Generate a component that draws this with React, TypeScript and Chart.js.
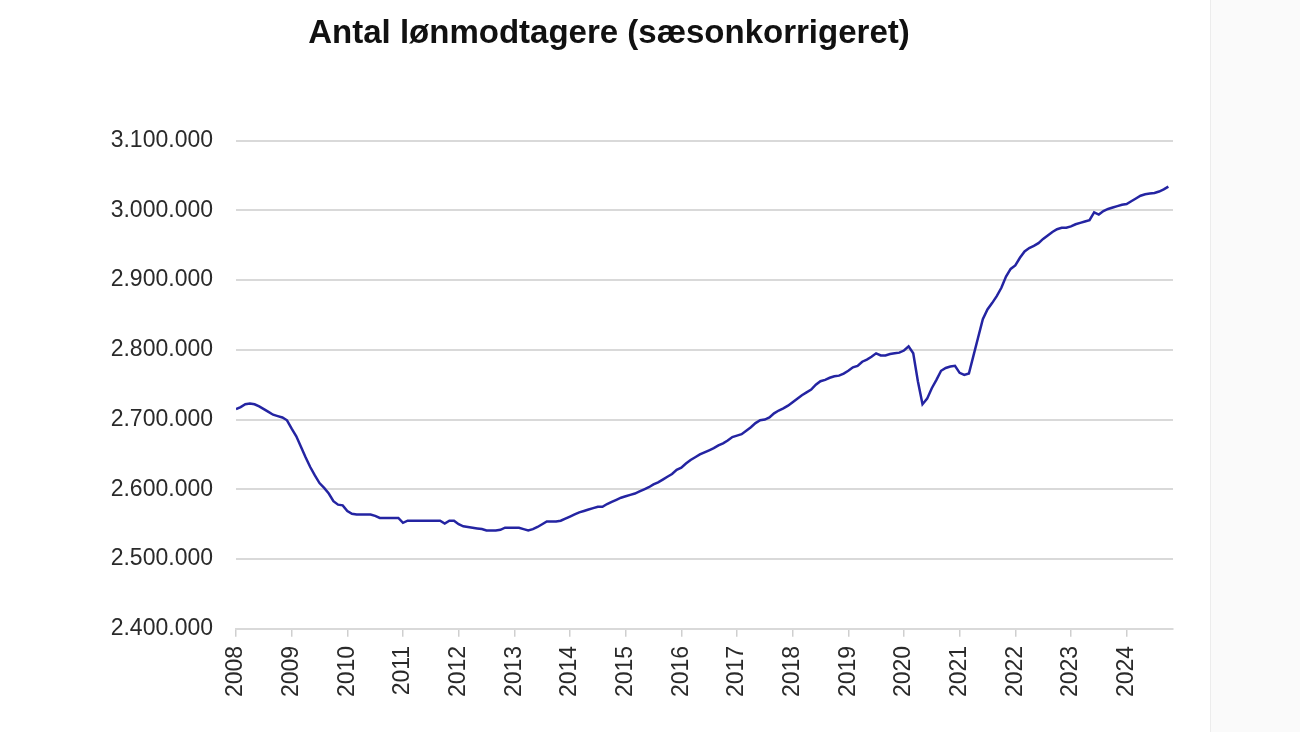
import React, { useEffect, useRef } from "react";
import { Chart, registerables } from "chart.js";

Chart.register(...registerables);

const TITLE = "Antal lønmodtagere (sæsonkorrigeret)";
const START_YEAR = 2008;
const LAST_MONTH_INDEX = 202; // axis runs to Nov 2024

// Monthly values (thousands), seasonally adjusted
const y2008 = [2715, 2718, 2722, 2723, 2722, 2719, 2715, 2711, 2707, 2705, 2703, 2699];
const y2009 = [2687, 2676, 2661, 2646, 2632, 2620, 2609, 2602, 2594, 2583, 2578, 2577];
const y2010 = [2569, 2565, 2564, 2564, 2564, 2564, 2562, 2559, 2559, 2559, 2559, 2559];
const y2011 = [2552, 2555, 2555, 2555, 2555, 2555, 2555, 2555, 2555, 2551, 2555, 2555];
const y2012 = [2550, 2547, 2546, 2545, 2544, 2543, 2541, 2541, 2541, 2542, 2545, 2545];
const y2013 = [2545, 2545, 2543, 2541, 2543, 2546, 2550, 2554, 2554, 2554, 2555, 2558];
const y2014 = [2561, 2564, 2567, 2569, 2571, 2573, 2575, 2575, 2579, 2582, 2585, 2588];
const y2015 = [2590, 2592, 2594, 2597, 2600, 2603, 2607, 2610, 2614, 2618, 2622, 2628];
const y2016 = [2631, 2637, 2642, 2646, 2650, 2653, 2656, 2659, 2663, 2666, 2670, 2675];
const y2017 = [2677, 2679, 2684, 2689, 2695, 2699, 2700, 2703, 2709, 2713, 2716, 2720];
const y2018 = [2725, 2730, 2735, 2739, 2743, 2750, 2755, 2757, 2760, 2762, 2763, 2766];
const y2019 = [2770, 2775, 2777, 2783, 2786, 2790, 2795, 2792, 2792, 2794, 2795, 2796];
const y2020 = [2799, 2805, 2795, 2755, 2722, 2730, 2745, 2757, 2770, 2774, 2776, 2777];
const y2021 = [2767, 2764, 2766, 2792, 2818, 2844, 2858, 2867, 2877, 2889, 2905, 2916];
const y2022 = [2921, 2932, 2941, 2946, 2949, 2953, 2959, 2964, 2969, 2973, 2975, 2975];
const y2023 = [2977, 2980, 2982, 2984, 2986, 2997, 2994, 2999, 3002, 3004, 3006, 3008];
const y2024 = [3009, 3013, 3017, 3021, 3023, 3024, 3025, 3027, 3030, 3034];

const monthly = [
  ...y2008, ...y2009, ...y2010, ...y2011, ...y2012, ...y2013, ...y2014, ...y2015,
  ...y2016, ...y2017, ...y2018, ...y2019, ...y2020, ...y2021, ...y2022, ...y2023, ...y2024,
];

const Y_MIN = 2400000;
const Y_MAX = 3100000;
const Y_STEP = 100000;

const fmtDa = (v: number) => String(Math.round(v)).replace(/\B(?=(\d{3})+(?!\d))/g, ".");

export default function App() {
  const canvasRef = useRef<HTMLCanvasElement | null>(null);

  useEffect(() => {
    if (!canvasRef.current) return;
    const points = monthly.map((v, i) => ({ x: i, y: v * 1000 }));
    const chart = new Chart(canvasRef.current, {
      type: "line",
      data: {
        datasets: [
          {
            label: "Lønmodtagere",
            data: points,
            borderColor: "#2424a2",
            borderWidth: 2.5,
            pointRadius: 0,
            tension: 0,
            fill: false,
          },
        ],
      },
      options: {
        animation: false,
        responsive: true,
        maintainAspectRatio: false,
        layout: { padding: { left: 37, right: 37, top: 0, bottom: 18 } },
        plugins: {
          legend: { display: false },
          tooltip: { enabled: false },
          title: {
            display: true,
            text: TITLE,
            color: "#111111",
            font: { family: "'Liberation Sans', Arial, sans-serif", size: 33, weight: "bold" },
            padding: { top: 6, bottom: 87 },
          },
        },
        scales: {
          x: {
            type: "linear",
            min: 0,
            max: LAST_MONTH_INDEX,
            grid: {
              drawOnChartArea: false,
              drawTicks: true,
              tickLength: 8,
              color: "#cfcfcf",
              lineWidth: 1.5,
            },
            border: { display: true, color: "#d9d9d9", width: 2 },
            ticks: {
              stepSize: 12,
              includeBounds: false,
              autoSkip: false,
              maxRotation: 90,
              minRotation: 90,
              padding: 9,
              color: "#2a2a2a",
              font: { family: "'Liberation Sans', Arial, sans-serif", size: 23 },
              callback: (v: any) => (Number(v) % 12 === 0 ? String(START_YEAR + Number(v) / 12) : null),
            },
          },
          y: {
            type: "linear",
            min: Y_MIN,
            max: Y_MAX,
            afterFit: (scale: any) => {
              scale.width = 191;
            },
            grid: { drawTicks: false, color: "#d9d9d9", lineWidth: 2 },
            border: { display: false },
            ticks: {
              stepSize: Y_STEP,
              padding: 23,
              color: "#2a2a2a",
              font: { family: "'Liberation Sans', Arial, sans-serif", size: 23 },
              callback: (v: any) => fmtDa(Number(v)),
            },
          },
        },
      },
    });
    return () => chart.destroy();
  }, []);

  return (
    <div style={{ position: "relative" }}>
      <div style={{ width: 1202, height: 716, position: "relative", background: "#ffffff" }}>
        <canvas ref={canvasRef} />
      </div>
      <div
        style={{
          position: "fixed",
          left: 1210,
          top: 0,
          width: 90,
          height: 732,
          background: "#fafafa",
          borderLeft: "1px solid #ececec",
        }}
      />
    </div>
  );
}
